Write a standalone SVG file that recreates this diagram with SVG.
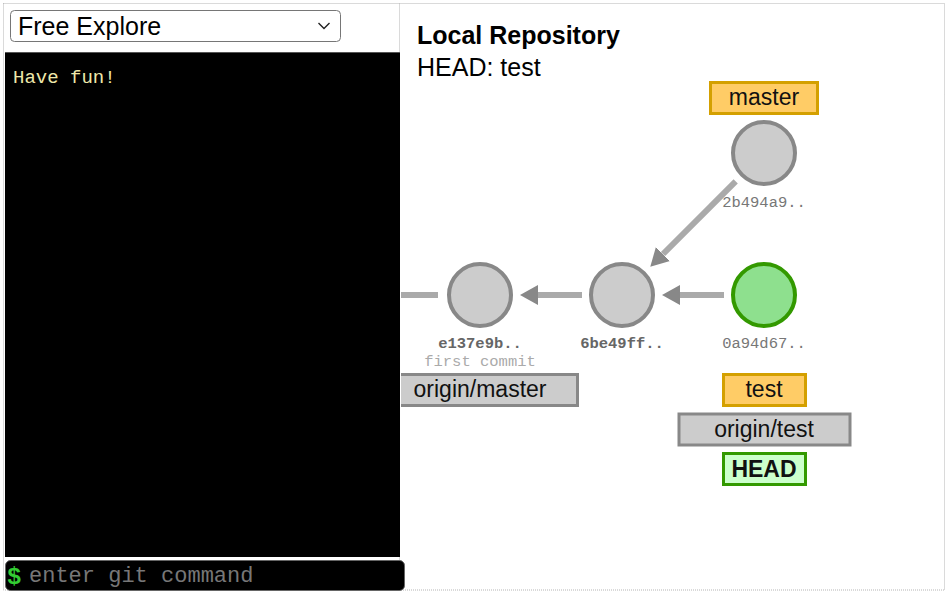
<svg xmlns="http://www.w3.org/2000/svg" width="946" height="593" viewBox="0 0 946 593">
  <style>
    .frame { fill: none; stroke: #b4b4b4; stroke-width: 1; stroke-dasharray: 1 1; }
    .ui { font-family: "Liberation Sans", Arial, sans-serif; }
    .mono { font-family: "Liberation Mono", "Courier New", monospace; }
    .edge { stroke: #aaaaaa; stroke-width: 6; fill: none; }
    .commit { fill: #cccccc; stroke: #888888; stroke-width: 4; }
    .commit.head { fill: #8ee08e; stroke: #339900; }
    .sha { font-family: "Liberation Mono", "Courier New", monospace; font-size: 15.5px; fill: #666666; text-anchor: middle; font-weight: bold; }
    .sha.light { font-weight: normal; fill: #777777; }
    .msg { font-family: "Liberation Mono", "Courier New", monospace; font-size: 15.5px; fill: #aaaaaa; text-anchor: middle; }
    .tag { font-family: "Liberation Sans", Arial, sans-serif; font-size: 23px; fill: #111111; text-anchor: middle; }
    .branch { fill: #ffcc66; stroke: #d4a000; stroke-width: 3; }
    .remote { fill: #cccccc; stroke: #888888; stroke-width: 3; }
    .headtag { fill: #ccffcc; stroke: #339900; stroke-width: 3; }
  </style>
  <defs>
    <marker id="arrow" viewBox="0 0 18 20" refX="0" refY="10" markerWidth="18" markerHeight="20" markerUnits="userSpaceOnUse" orient="auto">
      <path d="M0,0 L18,10 L0,20 Z" fill="#888888"/>
    </marker>
    <clipPath id="repoClip">
      <rect x="401" y="4" width="544" height="586"/>
    </clipPath>
  </defs>

  <rect x="0" y="0" width="946" height="593" fill="#ffffff"/>

  <!-- panel frames -->
  <rect class="frame" x="3.5" y="3.5" width="941" height="586.5"/>
  <line class="frame" x1="399.5" y1="3.5" x2="399.5" y2="590"/>

  <!-- command panel -->
  <g id="mode-select" class="ui">
    <rect x="10.5" y="10.5" width="330" height="31" rx="4" fill="#ffffff" stroke="#767676" stroke-width="1"/>
    <text x="18" y="35" font-size="25" fill="#000000">Free Explore</text>
    <path d="M318.5,23 L324,28.5 L329.5,23" fill="none" stroke="#222222" stroke-width="1.4"/>
  </g>

  <g id="terminal">
    <rect x="5" y="52" width="395" height="505" fill="#000000"/>
    <line x1="5" y1="52.5" x2="400" y2="52.5" stroke="#555555" stroke-width="1"/>
    <text class="mono" x="13" y="83" font-size="19" fill="#eee8aa">Have fun!</text>
  </g>

  <g id="command-input">
    <rect x="5.5" y="560.5" width="399" height="30" rx="5" fill="#000000" stroke="#666666" stroke-width="1"/>
    <text class="mono" x="7" y="584" font-size="24" font-weight="bold" fill="#33cc33">$</text>
    <text class="mono" x="29" y="582" font-size="22" fill="#777777">enter git command</text>
  </g>

  <!-- repository view -->
  <g id="repo-title" class="ui">
    <text x="417" y="44" font-size="25" font-weight="bold" fill="#000000">Local Repository</text>
    <text x="417" y="76" font-size="25" fill="#000000">HEAD: test</text>
  </g>

  <g id="connectors" clip-path="url(#repoClip)">
    <line class="edge" x1="380" y1="295" x2="438" y2="295"/>
    <line class="edge" x1="582" y1="295" x2="538" y2="295" marker-end="url(#arrow)"/>
    <line class="edge" x1="724" y1="295" x2="680" y2="295" marker-end="url(#arrow)"/>
    <line class="edge" x1="735.7" y1="181.3" x2="663" y2="254" marker-end="url(#arrow)"/>
  </g>

  <g id="commit-e137e9b">
    <circle class="commit" cx="480" cy="295" r="31"/>
    <text class="sha" x="480" y="348">e137e9b..</text>
    <text class="msg" x="480" y="366">first commit</text>
  </g>

  <g id="commit-6be49ff">
    <circle class="commit" cx="622" cy="295" r="31"/>
    <text class="sha" x="622" y="348">6be49ff..</text>
  </g>

  <g id="commit-0a94d67">
    <circle class="commit head" cx="764" cy="295" r="31"/>
    <text class="sha light" x="764" y="348">0a94d67..</text>
  </g>

  <g id="commit-2b494a9">
    <circle class="commit" cx="764" cy="153" r="31"/>
    <text class="sha light" x="764" y="207">2b494a9..</text>
  </g>

  <g id="branch-master">
    <rect class="branch" x="710.5" y="82.5" width="107" height="31"/>
    <text class="tag" x="764" y="105">master</text>
  </g>

  <g id="remote-origin-master" clip-path="url(#repoClip)">
    <rect class="remote" x="381.5" y="374.5" width="196" height="31"/>
    <text class="tag" x="480" y="397">origin/master</text>
  </g>

  <g id="branch-test">
    <rect class="branch" x="723.5" y="374.5" width="82" height="31"/>
    <text class="tag" x="764" y="397">test</text>
  </g>

  <g id="remote-origin-test">
    <rect class="remote" x="679" y="414" width="171" height="31"/>
    <text class="tag" x="764" y="437">origin/test</text>
  </g>

  <g id="head">
    <rect class="headtag" x="723.5" y="453.5" width="82" height="31"/>
    <text class="tag" x="764" y="477" font-weight="bold">HEAD</text>
  </g>
</svg>
